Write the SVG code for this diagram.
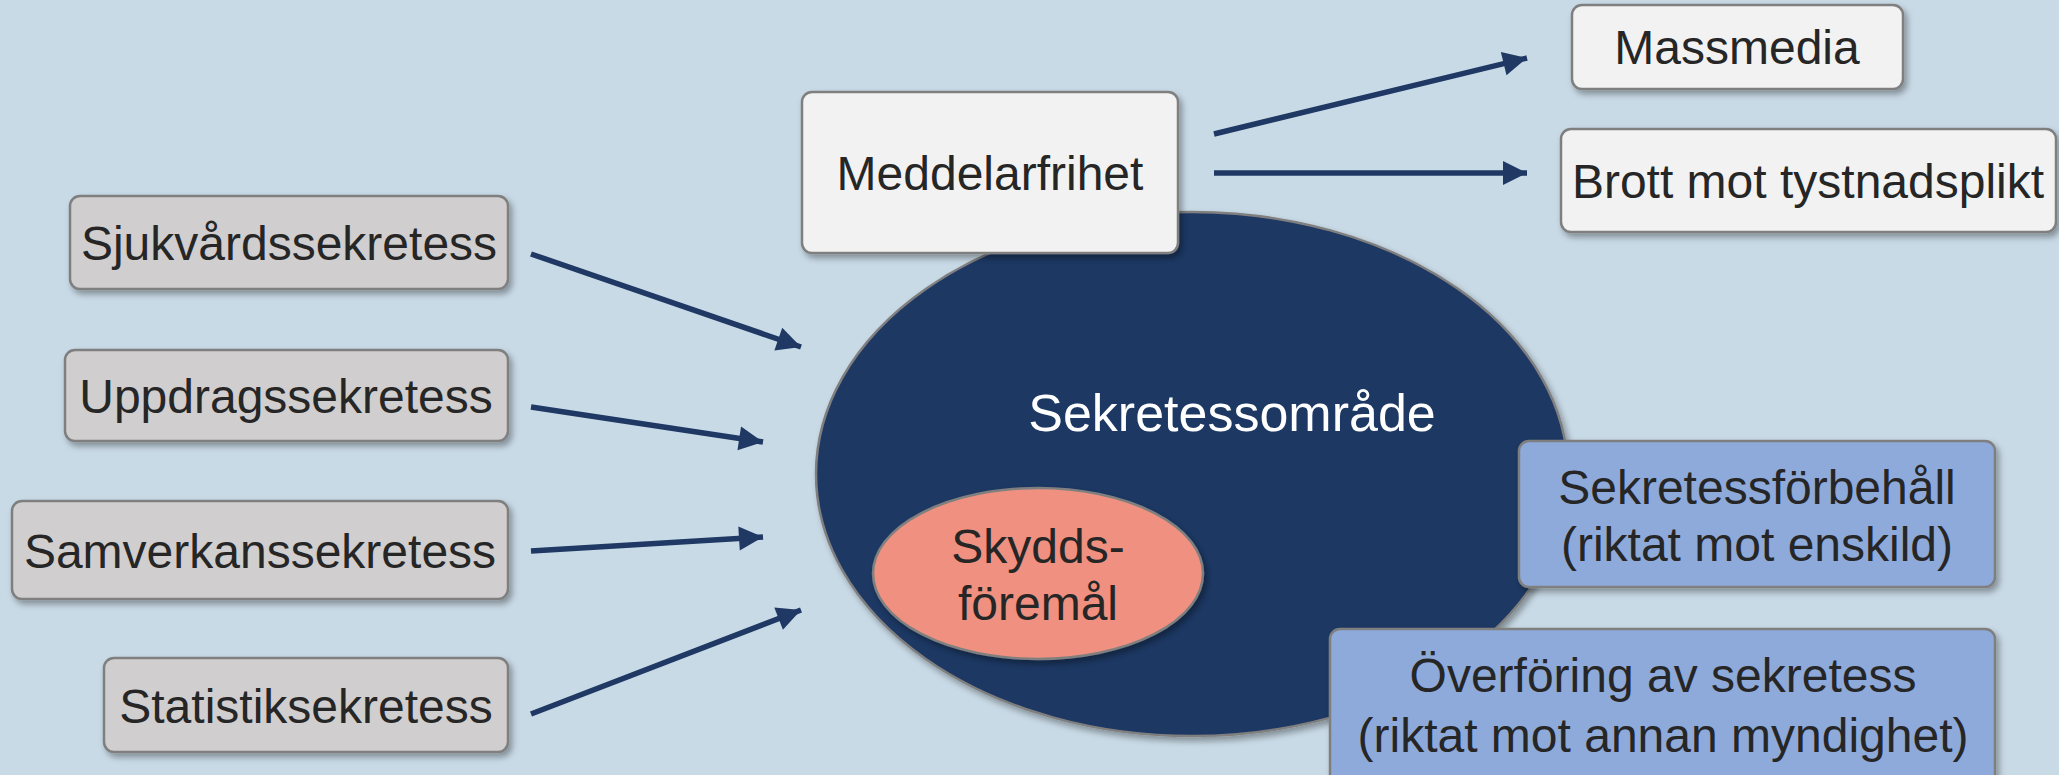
<svg xmlns="http://www.w3.org/2000/svg" width="2059" height="775" viewBox="0 0 2059 775">
  <defs>
    <filter id="sh" x="-10%" y="-10%" width="125%" height="130%">
      <feDropShadow dx="3" dy="4" stdDeviation="3" flood-color="#000" flood-opacity="0.35"/>
    </filter>
    <marker id="ah" markerUnits="userSpaceOnUse" markerWidth="30" markerHeight="30" refX="24" refY="12" orient="auto" overflow="visible">
      <path d="M0,0 L24,12 L0,24 Z" fill="#1f3864"/>
    </marker>
    <style>
      .t { font-family: "Liberation Sans", Arial, sans-serif; font-size: 48px; fill: #262626; text-anchor: middle; }
      .grey { fill: #d0cece; stroke: #7f7f7f; stroke-width: 2.5; }
      .white { fill: #f2f2f2; stroke: #7f7f7f; stroke-width: 2.5; }
      .blue { fill: #8eaadb; stroke: #7f7f7f; stroke-width: 2.5; }
      .conn { stroke: #1f3864; stroke-width: 5.5; fill: none; }
    </style>
  </defs>
  <rect width="2059" height="775" fill="#c8dae6"/>

  <g id="sekretessomrade">
    <ellipse cx="1192" cy="474" rx="376" ry="262" fill="#1f3864" stroke="#7f7f7f" stroke-width="2.5" filter="url(#sh)"/>
    <text class="t" x="1232" y="431" style="fill:#ffffff;font-size:52px">Sekretessområde</text>
  </g>

  <g id="skyddsforemal">
    <ellipse cx="1038" cy="573.5" rx="165" ry="85.5" fill="#ef9080" stroke="#7f7f7f" stroke-width="2.5" filter="url(#sh)"/>
    <text class="t" x="1038" y="563">Skydds-</text>
    <text class="t" x="1038" y="620">föremål</text>
  </g>

  <g id="sjukvard">
    <rect class="grey" x="70" y="196" width="438" height="93" rx="10" filter="url(#sh)"/>
    <text class="t" x="289" y="260">Sjukvårdssekretess</text>
  </g>
  <g id="uppdrag">
    <rect class="grey" x="65" y="350" width="443" height="91" rx="10" filter="url(#sh)"/>
    <text class="t" x="286" y="413">Uppdragssekretess</text>
  </g>
  <g id="samverkan">
    <rect class="grey" x="12" y="501" width="496" height="98" rx="10" filter="url(#sh)"/>
    <text class="t" x="260" y="568">Samverkanssekretess</text>
  </g>
  <g id="statistik">
    <rect class="grey" x="104" y="658" width="404" height="94" rx="10" filter="url(#sh)"/>
    <text class="t" x="306" y="723">Statistiksekretess</text>
  </g>

  <g id="meddelarfrihet">
    <rect class="white" x="802" y="92" width="376" height="161" rx="10" filter="url(#sh)"/>
    <text class="t" x="990" y="190">Meddelarfrihet</text>
  </g>
  <g id="massmedia">
    <rect class="white" x="1572" y="5" width="331" height="84" rx="10" filter="url(#sh)"/>
    <text class="t" x="1737" y="64">Massmedia</text>
  </g>
  <g id="brott">
    <rect class="white" x="1561" y="129" width="495" height="103" rx="10" filter="url(#sh)"/>
    <text class="t" x="1808" y="198">Brott mot tystnadsplikt</text>
  </g>

  <g id="forbehall">
    <rect class="blue" x="1519" y="441" width="476" height="146" rx="10" filter="url(#sh)"/>
    <text class="t" x="1757" y="504">Sekretessförbehåll</text>
    <text class="t" x="1757" y="561">(riktat mot enskild)</text>
  </g>
  <g id="overforing">
    <rect class="blue" x="1330" y="629" width="665" height="160" rx="10" filter="url(#sh)"/>
    <text class="t" x="1663" y="692">Överföring av sekretess</text>
    <text class="t" x="1663" y="752">(riktat mot annan myndighet)</text>
  </g>

  <g id="connectors">
    <line class="conn" x1="531" y1="254" x2="801" y2="347" marker-end="url(#ah)"/>
    <line class="conn" x1="531" y1="407" x2="763" y2="442" marker-end="url(#ah)"/>
    <line class="conn" x1="531" y1="551" x2="763" y2="537" marker-end="url(#ah)"/>
    <line class="conn" x1="531" y1="714" x2="801" y2="610" marker-end="url(#ah)"/>
    <line class="conn" x1="1214" y1="134" x2="1527" y2="58" marker-end="url(#ah)"/>
    <line class="conn" x1="1214" y1="173" x2="1527" y2="173" marker-end="url(#ah)"/>
  </g>
</svg>
